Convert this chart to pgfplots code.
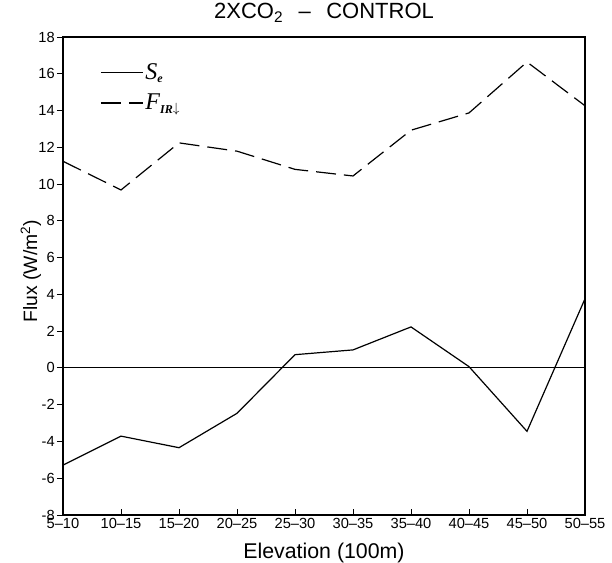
\documentclass[border=0pt]{standalone}
\usepackage{fontspec}
\setmainfont{Liberation Sans}
\newfontfamily\serifit{Liberation Serif}
\usepackage{pgfplots}
\pgfplotsset{compat=1.18}
\begin{document}
\begin{tikzpicture}
\begin{axis}[
  at={(0,0)}, anchor=south west,
  scale only axis,
  width=391.5pt, height=358.5pt,
  xmin=0, xmax=9, ymin=-8, ymax=18,
  xtick={0,...,9},
  xticklabels={5--10,10--15,15--20,20--25,25--30,30--35,35--40,40--45,45--50,50--55},
  ytick={-8,-6,...,18},
  tick align=outside,
  major tick length=4.5pt,
  xtick style={yshift=4.5pt},
  xticklabel style={yshift=3pt, inner sep=1pt},
  yticklabel style={inner sep=1.5pt},
  xtick pos=bottom, ytick pos=left,
  tick style={black, line width=0.7pt},
  axis line style={line width=1.2pt},
  /pgf/number format/assume math mode=true,
  ticklabel style={font=\fontsize{11}{13}\selectfont},
  title={2XCO\textsubscript{2}\hspace{0.7em}--\hspace{0.7em}CONTROL},
  every axis title/.style={at={(axis description cs:0.5,1.0377)}, anchor=base, inner sep=0pt, font=\fontsize{16.5}{19}\selectfont},
  xlabel={Elevation (100m)},
  every axis x label/.style={at={(axis description cs:0.5,-0.09)}, anchor=base, inner sep=0pt, font=\fontsize{16}{19}\selectfont},
  ylabel={Flux (W/m\textsuperscript{2})},
  every axis y label/.style={at={(axis description cs:-0.0498,0.51)}, rotate=90, anchor=base, inner sep=0pt, font=\fontsize{14.5}{17}\selectfont},
  legend style={at={(axis description cs:0.0709,0.949)}, anchor=north west, draw=none, fill=none,
    inner sep=0pt, font=\fontsize{18}{20}\selectfont, row sep=6.5pt,
    nodes={inner sep=1.5pt}},
  legend cell align=left,
  legend image code/.code={\draw[#1] (0pt,0pt) -- (31.5pt,0pt);},
  clip=false,
]
\addplot[black, line width=0.9pt] coordinates {
 (0,-5.29) (1,-3.71) (2,-4.34) (3,-2.47) (4,0.72) (5,0.98) (6,2.23) (7,0.07) (8,-3.45) (9,3.76)
};
\addlegendentry{{\serifit\itshape S\raisebox{-0.3ex}{\fontsize{9}{10}\selectfont\bfseries e}}}
\addplot[black, line width=0.9pt, dash pattern=on 15pt off 6pt] coordinates {
 (0,11.24) (1,9.68) (2,12.24) (3,11.79) (4,10.8) (5,10.44) (6,12.93) (7,13.87) (8,16.64) (9,14.26)
};
\addlegendentry{{\serifit\itshape F\raisebox{-0.3ex}{\fontsize{9}{10}\selectfont\bfseries IR}\raisebox{-0.2ex}{\fontsize{10}{11}\selectfont\upshape$\downarrow$}}}
\addplot[black, line width=0.7pt, forget plot] coordinates {(0,0) (9,0)};
\end{axis}
\path (-47.25pt,-36pt) rectangle (411.75pt,386.25pt);
\end{tikzpicture}
\end{document}
